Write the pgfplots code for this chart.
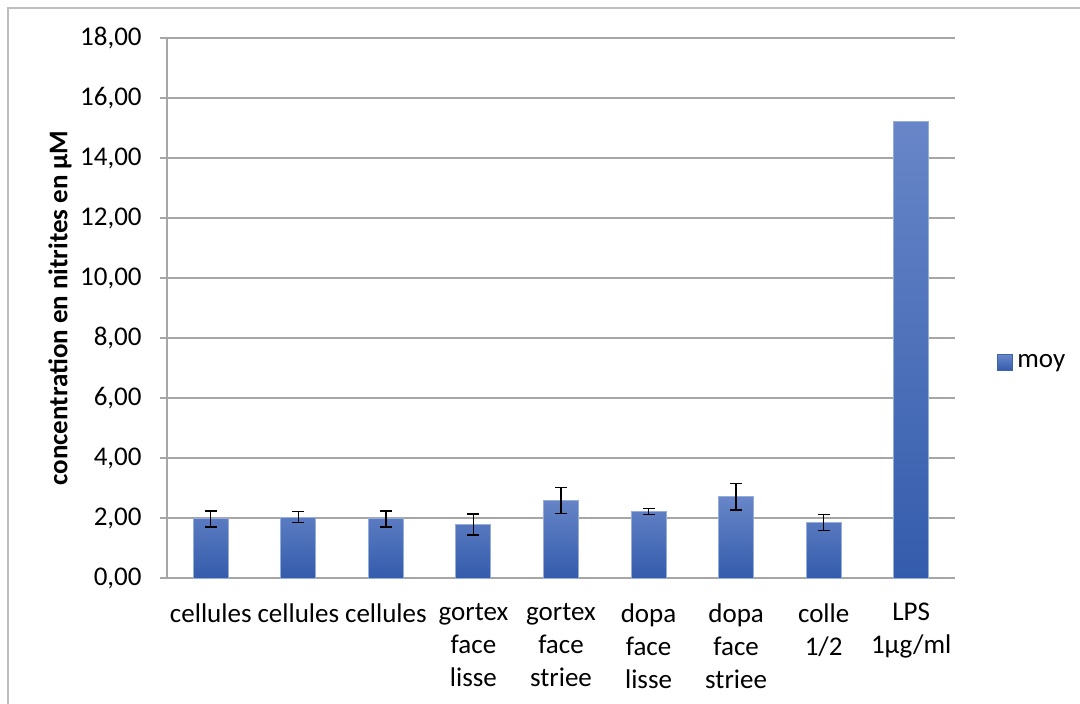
\documentclass[border=0pt]{standalone}
\usepackage{fontspec}
\setmainfont{Carlito}
\usepackage{pgfplots}
\pgfplotsset{compat=1.18}
\definecolor{gridc}{RGB}{166,166,166}
\definecolor{framec}{RGB}{190,190,190}
\definecolor{bartop}{RGB}{104,134,200}
\definecolor{barbot}{RGB}{52,92,172}
\definecolor{baredge}{RGB}{150,172,218}
\begin{document}
\begin{tikzpicture}
\useasboundingbox (0pt,0pt) rectangle (540pt,-351.5pt);
\draw[framec, line width=0.6pt] (4pt,-360pt) -- (4pt,-4pt) -- (560pt,-4pt);
\begin{axis}[
  at={(83.5pt,-289pt)}, anchor=south west,
  scale only axis, width=394pt, height=270pt,
  xmin=-0.5, xmax=8.5, ymin=0, ymax=18,
  ytick={0,2,...,18},
  xtick={0,...,8},
  xticklabels={cellules,cellules,cellules,{gortex\\face\\lisse},{gortex\\face\\striee},{dopa\\face\\lisse},{dopa\\face\\striee},{colle\\1/2},{LPS\\1µg/ml}},
  axis lines=left,
  axis line style={-, draw=gridc, line width=0.65pt},
  ymajorgrids, grid style={draw=gridc, line width=0.65pt},
  ytick style={draw=gridc, line width=0.65pt},
  xtick style={draw=none},
  tick align=outside, major tick length=3.5pt,
  /pgf/number format/.cd, use comma, fixed, fixed zerofill, precision=2, assume math mode=true,
  /pgfplots/.cd,
  tick label style={font=\fontsize{13.5}{16.5}\selectfont, text=black},
  yticklabel style={anchor=east, inner sep=0pt, xshift=-9pt},
  xticklabel style={align=center, anchor=north, inner sep=0pt, yshift=-9pt},
  ylabel={concentration en nitrites en µM},
  ylabel style={at={(axis description cs:-0.1358,0.5)}, anchor=center, rotate=0, font=\fontsize{13.5}{16}\selectfont\bfseries},
  legend style={at={(rel axis cs:1.053,0.399)}, anchor=west, draw=none, fill=none, font=\fontsize{13.5}{16}\selectfont, inner sep=0pt},
  ybar, bar width=17.5pt, bar shift=0pt,
]
\addplot[top color=bartop, bottom color=barbot, draw=baredge, line width=0.5pt,
  legend image code/.code={\fill[barbot!80!bartop] (0pt,-3.8pt) rectangle (7.6pt,3.8pt);},
  error bars/.cd, y dir=both, y explicit,
  error bar style={black, line width=0.7pt},
  error mark options={rotate=90, mark size=3pt, black, line width=0.7pt}]
  coordinates {
  (0,1.97) +- (0,0.27)
  (1,2.03) +- (0,0.18)
  (2,1.97) +- (0,0.27)
  (3,1.79) +- (0,0.35)
  (4,2.59) +- (0,0.43)
  (5,2.21) +- (0,0.10)
  (6,2.71) +- (0,0.44)
  (7,1.85) +- (0,0.26)
  };
\addlegendentry{moy}
\addplot[forget plot, top color=bartop, bottom color=barbot, draw=baredge, line width=0.5pt]
  coordinates {(8,15.23)};
\end{axis}
\end{tikzpicture}
\end{document}
